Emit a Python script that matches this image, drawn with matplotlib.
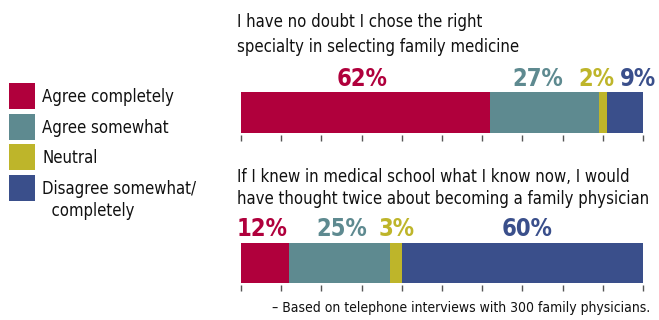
import matplotlib
matplotlib.use("Agg")
import matplotlib.pyplot as plt
from matplotlib.patches import Rectangle

# ---- data ----
categories = ["Agree completely", "Agree somewhat", "Neutral", "Disagree somewhat/\n  completely"]
question1 = ["I have no doubt I chose the right", "specialty in selecting family medicine"]
question2 = ["If I knew in medical school what I know now, I would",
             "have thought twice about becoming a family physician"]
values_q1 = [62, 27, 2, 9]
values_q2 = [12, 25, 3, 60]
footnote = "\u2013 Based on telephone interviews with 300 family physicians."
xticks = list(range(0, 101, 10))

# ---- style ----
colors = ["#B0003C", "#5E8A90", "#BEB52A", "#3A4F8B"]
label_dx_q1 = [-0.9, -1.6, -1.5, 3.2]
label_dx_q2 = [-0.7, 0.5, 0.3, 1.1]
FONT = dict(family="DejaVu Sans", stretch="condensed")
W, H = 659, 320

fig = plt.figure(figsize=(W / 100, H / 100), dpi=100)


def fx(x):
    return x / W


def fy(y):
    return 1 - y / H


def bar_axes(top, bottom, values, dx, label_base):
    # axes extends 2px below the bar so the ticks start slightly below it
    ax = fig.add_axes([fx(241), fy(bottom + 2), (643 - 241) / W, (bottom + 2 - top) / H])
    bar_h = bottom - top
    ax.set_xlim(0, 100)
    ax.set_ylim(-0.5 - 2 / bar_h, 0.5)
    label_y = 1 + (top - label_base) / (bottom + 2 - top)
    left = 0
    for v, c, d in zip(values, colors, dx):
        ax.barh(0, v, left=left, height=1.0, color=c, edgecolor="none")
        ax.text(left + v / 2 + d, label_y, f"{v}%", ha="center", va="baseline",
                transform=ax.get_xaxis_transform(), color=c, fontsize=17,
                fontweight="bold", clip_on=False, **FONT)
        left += v
    ax.set_xticks(xticks)
    ax.set_xticklabels([])
    ax.set_yticks([])
    ax.tick_params(axis="x", direction="out", length=4.5, width=1.0, color="#555555")
    for s in ax.spines.values():
        s.set_visible(False)
    ax.patch.set_alpha(0)
    return ax


bar_axes(92, 133, values_q1, label_dx_q1, 86)
bar_axes(243, 283, values_q2, label_dx_q2, 236)

# questions
for line, yb in zip(question1, [27, 52]):
    fig.text(fx(237), fy(yb), line, ha="left", va="baseline", fontsize=12, color="#111111", **FONT)
for line, yb in zip(question2, [182, 204]):
    fig.text(fx(237), fy(yb), line, ha="left", va="baseline", fontsize=12, color="#111111", **FONT)

# legend
sq_tops = [83, 114, 144, 175]
for cat, c, t in zip(categories, colors, sq_tops):
    fig.add_artist(Rectangle((fx(9), fy(t + 26)), 26 / W, 26 / H, transform=fig.transFigure,
                             facecolor=c, edgecolor="none"))
    for k, line in enumerate(cat.split("\n")):
        fig.text(fx(42), fy(t + 19 + 22 * k), line, ha="left", va="baseline", fontsize=12,
                 color="#111111", **FONT)

fig.text(fx(650), fy(312), footnote, ha="right", va="baseline", fontsize=10,
         color="#111111", **FONT)

fig.savefig("out.png", dpi=100)
